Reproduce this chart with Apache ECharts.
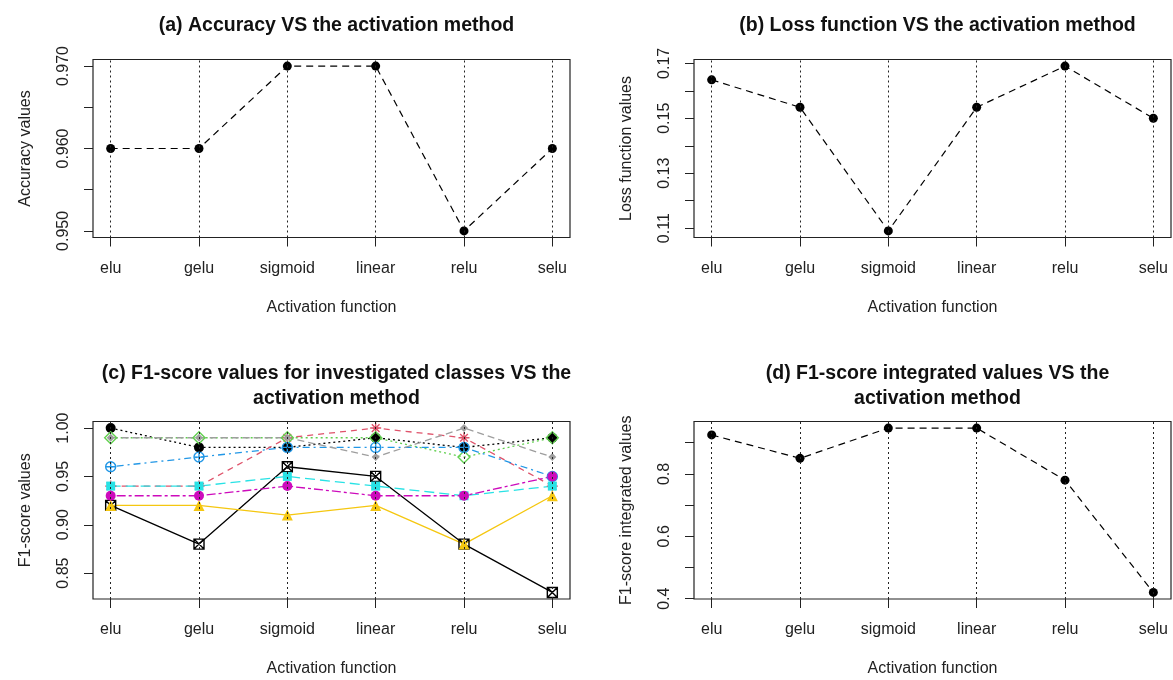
<!DOCTYPE html>
<html>
<head>
<meta charset="utf-8">
<script src="https://cdn.jsdelivr.net/npm/echarts@6/dist/echarts.min.js"></script>
<style>html,body{margin:0;padding:0;background:#fff}#c{width:1173px;height:680px}</style>
</head>
<body>
<div id="c"></div>
<script>
// ---------- data ----------
const categories = ['elu', 'gelu', 'sigmoid', 'linear', 'relu', 'selu'];
const accuracy = [0.96, 0.96, 0.97, 0.97, 0.95, 0.96];
const lossValues = [0.164, 0.154, 0.109, 0.154, 0.169, 0.150];
const f1Integrated = [0.925, 0.85, 0.947, 0.947, 0.78, 0.42];
// F1-score per class
const f1ClassA = [0.92, 0.88, 0.96, 0.95, 0.88, 0.83]; // black, square-x, solid
const f1ClassB = [1.00, 0.98, 0.98, 0.99, 0.98, 0.99]; // black dot, dotted
const f1ClassC = [0.94, 0.94, 0.99, 1.00, 0.99, 0.94]; // red asterisk, dashed
const f1ClassD = [0.99, 0.99, 0.99, 0.99, 0.97, 0.99]; // green diamond, dotted
const f1ClassE = [0.96, 0.97, 0.98, 0.98, 0.98, 0.95]; // blue circle-plus, dot-dash
const f1ClassF = [0.94, 0.94, 0.95, 0.94, 0.93, 0.94]; // cyan square, long dash
const f1ClassG = [0.93, 0.93, 0.94, 0.93, 0.93, 0.95]; // magenta dot, two-dash
const f1ClassH = [0.92, 0.92, 0.91, 0.92, 0.88, 0.93]; // yellow triangle, solid
const f1ClassI = [0.99, 0.99, 0.99, 0.97, 1.00, 0.97]; // gray diamond, dashed
// tick values
const accTicks = [0.95, 0.955, 0.96, 0.965, 0.97];
const accLabels = [0.95, 0.96, 0.97];
const lossTicks = [0.11, 0.12, 0.13, 0.14, 0.15, 0.16, 0.17];
const lossLabels = [0.11, 0.13, 0.15, 0.17];
const f1Ticks = [0.85, 0.90, 0.95, 1.00];
const f1Labels = [0.85, 0.90, 0.95, 1.00];
const intTicks = [0.4, 0.5, 0.6, 0.7, 0.8, 0.9];
const intLabels = [0.4, 0.6, 0.8];

// ---------- helpers ----------
const FONT = 'Liberation Sans';
const INK = '#222';
const FS = 16;
const n = categories.length;
const xs = categories.map((c, i) => i + 1);
function rRange(arr) {
  const mn = Math.min(...arr), mx = Math.max(...arr), p = (mx - mn) * 0.04;
  return [mn - p, mx + p];
}
const pts = arr => arr.map((v, i) => [i + 1, v]);

const grids = [
  {left: 93, top: 59.5, width: 477, height: 178},
  {left: 694, top: 59.5, width: 477, height: 178},
  {left: 93, top: 421.5, width: 477, height: 177.5},
  {left: 694, top: 421.5, width: 477, height: 177.5}
].map(g => Object.assign({show: true, borderColor: INK, borderWidth: 1.2, backgroundColor: 'transparent', containLabel: false}, g));

function makeX(gi) {
  const pad = 0.04 * (n - 1);
  return {
    type: 'value', gridIndex: gi, min: 1 - pad, max: n + pad,
    name: 'Activation function', nameLocation: 'middle', nameGap: 62,
    nameTextStyle: {fontFamily: FONT, fontSize: FS, color: INK},
    axisLine: {show: false},
    axisTick: {show: true, length: 9, customValues: xs, lineStyle: {color: INK, width: 1}},
    axisLabel: {customValues: xs, margin: 23, fontFamily: FONT, fontSize: FS, color: INK,
      formatter: v => categories[Math.round(v) - 1] || ''},
    splitLine: {show: false}
  };
}
function makeY(gi, name, range, ticks, labels, dec) {
  return {
    type: 'value', gridIndex: gi, min: range[0], max: range[1],
    name: name, nameLocation: 'middle', nameGap: 59, nameRotate: 90,
    nameTextStyle: {fontFamily: FONT, fontSize: FS, color: INK},
    axisLine: {show: false},
    axisTick: {show: true, length: 9, customValues: ticks, lineStyle: {color: INK, width: 1}},
    axisLabel: {customValues: labels, rotate: 90, margin: 21, fontFamily: FONT, fontSize: FS, color: INK,
      formatter: v => Number(v).toFixed(dec)},
    splitLine: {show: false}
  };
}
const vLines = {
  silent: true, symbol: ['none', 'none'], label: {show: false},
  lineStyle: {type: [2, 3], color: INK, width: 1}, emphasis: {disabled: true},
  data: xs.map(x => ({xAxis: x}))
};
function simpleSeries(gi, data) {
  return {
    type: 'line', xAxisIndex: gi, yAxisIndex: gi, data: pts(data),
    symbol: 'circle', symbolSize: 9, itemStyle: {color: '#000'},
    lineStyle: {color: '#000', width: 1.2, type: [7, 5]}, markLine: vLines, z: 3
  };
}
const allF1 = [].concat(f1ClassA, f1ClassB, f1ClassC, f1ClassD, f1ClassE, f1ClassF, f1ClassG, f1ClassH, f1ClassI);

const SQX = 'path://M0,0L10,0L10,10L0,10ZM0,0L10,10M10,0L0,10';
const CPLUS = 'path://M0,-10A10,10,0,1,1,0,10A10,10,0,1,1,0,-10ZM0,-10L0,10M-10,0L10,0';
const AST = 'path://M0,-10L0,10M-10,0L10,0M-7,-7L7,7M-7,7L7,-7';

function f1Series(data, color, dash, symbol, size, filled, first) {
  const s = {
    type: 'line', xAxisIndex: 2, yAxisIndex: 2, data: pts(data),
    symbol: symbol, symbolSize: size, symbolKeepAspect: true,
    itemStyle: filled ? {color: color} : {color: 'rgba(0,0,0,0)', borderColor: color, borderWidth: 1.4},
    lineStyle: {color: color, width: 1.3, type: dash}, z: 3
  };
  if (first) s.markLine = vLines;
  return s;
}

const option = {
  animation: false,
  backgroundColor: '#fff',
  title: [
    {text: '(a) Accuracy VS the activation method', left: 331.5, top: 8, textAlign: 'center'},
    {text: '(b) Loss function VS the activation method', left: 932.5, top: 8, textAlign: 'center'},
    {text: '(c) F1-score values for investigated classes VS the\nactivation method', left: 331.5, top: 356, textAlign: 'center'},
    {text: '(d) F1-score integrated values VS the\nactivation method', left: 932.5, top: 356, textAlign: 'center'}
  ].map(t => Object.assign(t, {textStyle: {fontFamily: FONT, fontSize: 19.5, fontWeight: 'bold', color: '#111', lineHeight: 25}})),
  grid: grids,
  xAxis: [makeX(0), makeX(1), makeX(2), makeX(3)],
  yAxis: [
    makeY(0, 'Accuracy values', rRange(accuracy), accTicks, accLabels, 3),
    makeY(1, 'Loss function values', rRange(lossValues), lossTicks, lossLabels, 2),
    makeY(2, 'F1-score values', rRange(allF1), f1Ticks, f1Labels, 2),
    makeY(3, 'F1-score integrated values', rRange(f1Integrated), intTicks, intLabels, 1)
  ],
  series: [
    simpleSeries(0, accuracy),
    simpleSeries(1, lossValues),
    simpleSeries(3, f1Integrated),
    f1Series(f1ClassA, '#000000', 'solid', SQX, 10, false, true),
    f1Series(f1ClassB, '#000000', [2, 3], 'circle', 10, true),
    f1Series(f1ClassC, '#DF536B', [6, 5], AST, 11, false),
    f1Series(f1ClassD, '#61D04F', [2, 3], 'diamond', 12, false),
    f1Series(f1ClassE, '#2297E6', [2, 4, 7, 4], CPLUS, 10, false),
    f1Series(f1ClassF, '#28E2E5', [10, 5], 'rect', 9, true),
    f1Series(f1ClassG, '#CD0BBC', [3, 3, 9, 3], 'circle', 10, true),
    f1Series(f1ClassH, '#F5C710', 'solid', 'triangle', 11, true),
    f1Series(f1ClassI, '#9E9E9E', [7, 4], 'diamond', 8, true)
  ]
};
const chart = echarts.init(document.getElementById('c'), null, {renderer: 'canvas'});
chart.setOption(option);
</script>
</body>
</html>
